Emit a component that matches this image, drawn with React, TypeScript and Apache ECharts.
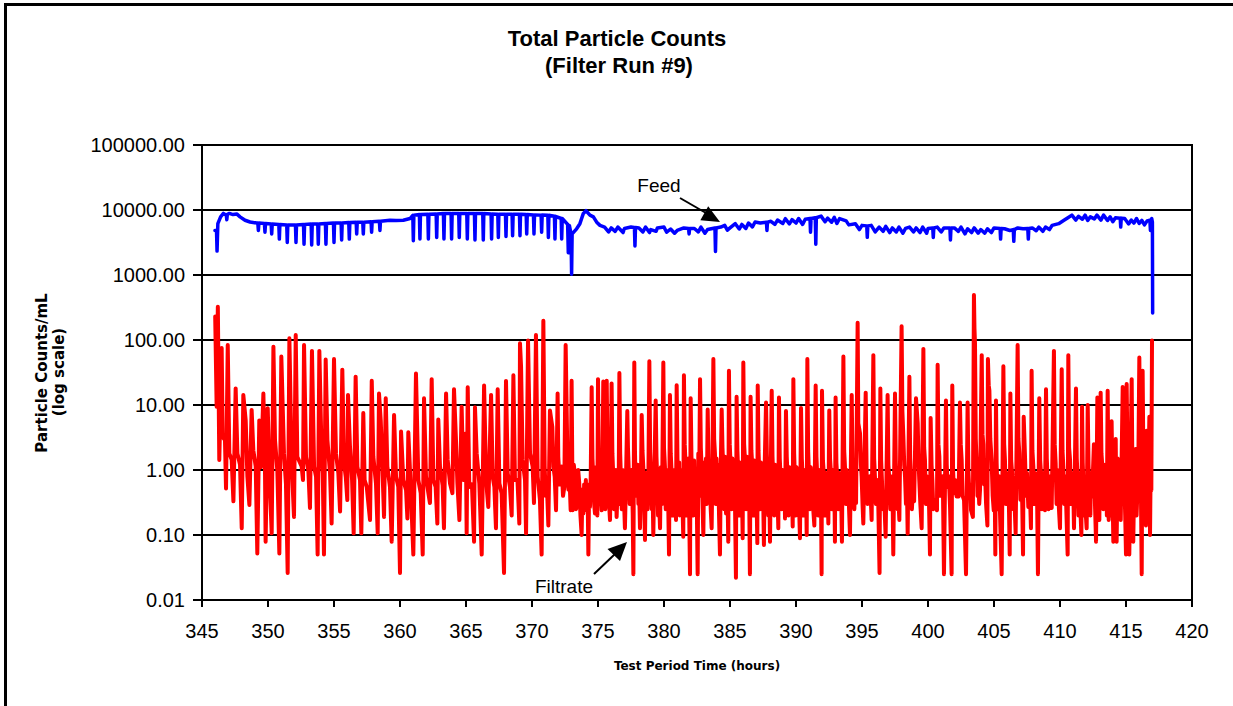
import React, { useEffect, useRef } from "react";
import * as echarts from "echarts";

const xMin = 345;
const xMax = 420;
const xStep = 5;
const yMin = 0.01;
const yMax = 100000;

const titleLines = ["Total Particle Counts", "(Filter Run #9)"];
const yNameLines = ["Particle Counts/mL", "(log scale)"];
const xName = "Test Period Time (hours)";

// Feed (blue) [hours, counts/mL]
const feedPoints: [number, number][] = [
  [345.98, 4840], [346.1, 4840], [346.14, 2330], [346.2, 6160], [346.41, 7850], [346.62, 8860], [346.84, 8300],
  [346.88, 7100], [346.92, 8600], [347.07, 8860], [347.35, 8500], [347.63, 8700], [347.88, 7850], [348.26, 6950],
  [348.64, 6540], [349.14, 6310],
  [349.23, 6300], [349.27, 4840], [349.31, 6300],
  [349.73, 6200], [349.77, 4550], [349.81, 6200],
  [350.24, 6100], [350.28, 4280], [350.32, 6100],
  [350.82, 6000], [350.86, 3570], [350.9, 6000],
  [351.42, 5900], [351.46, 3160], [351.5, 5900],
  [352.08, 5900], [352.12, 3160], [352.16, 5900],
  [352.69, 6000], [352.73, 2980], [352.77, 6000],
  [353.27, 6100], [353.31, 2900], [353.35, 6100],
  [353.77, 6100], [353.81, 2980], [353.85, 6100],
  [354.35, 6200], [354.39, 2980], [354.43, 6200],
  [354.96, 6300], [355.0, 3160], [355.04, 6300],
  [355.54, 6300], [355.58, 3450], [355.62, 6300],
  [356.12, 6400], [356.16, 3570], [356.2, 6400],
  [356.68, 6500], [356.72, 4280], [356.76, 6500],
  [357.18, 6500], [357.22, 4280], [357.26, 6500],
  [357.81, 6600], [357.85, 4550], [357.89, 6600],
  [358.44, 6700], [358.48, 4840], [358.52, 6700],
  [359.24, 6950], [359.7, 6900], [360.25, 6950], [360.76, 7390],
  [360.97, 8300], [361.01, 3360], [361.05, 8300],
  [361.47, 8500], [361.51, 3570], [361.55, 8500],
  [362.11, 8600], [362.15, 3570], [362.19, 8600],
  [362.74, 8700], [362.78, 3790], [362.82, 8700],
  [363.29, 8800], [363.33, 3570], [363.37, 8800],
  [363.87, 8860], [363.91, 3570], [363.95, 8860],
  [364.45, 8860], [364.49, 3790], [364.53, 8860],
  [365.06, 8860], [365.1, 3570], [365.14, 8860],
  [365.64, 8860], [365.68, 3450], [365.72, 8860],
  [366.27, 8800], [366.31, 3450], [366.35, 8800],
  [366.9, 8700], [366.94, 3570], [366.98, 8700],
  [367.41, 8600], [367.45, 3790], [367.49, 8600],
  [367.99, 8600], [368.03, 3900], [368.07, 8600],
  [368.49, 8600], [368.53, 4030], [368.57, 8600],
  [369.05, 8600], [369.09, 4030], [369.13, 8600],
  [369.56, 8500], [369.6, 4280], [369.64, 8500],
  [370.11, 8400], [370.15, 4280], [370.19, 8400],
  [370.69, 8340], [370.73, 4550], [370.77, 8340],
  [371.2, 8300], [371.24, 3790], [371.28, 8300],
  [371.7, 8000], [371.74, 3570], [371.78, 8000],
  [372.21, 7400], [372.25, 3570], [372.29, 7400],
  [372.7, 6000], [372.75, 2200], [372.83, 5800], [372.96, 4300], [373.0, 1030], [373.04, 4280], [373.38, 5140],
  [373.63, 6160], [373.89, 8860], [374.09, 9750], [374.39, 8340], [374.65, 7850],
  [374.9, 6500], [375.15, 5800], [375.5, 5460], [375.8, 4600], [376.0, 5300], [376.3, 4700], [376.5, 5460],
  [376.9, 4500], [377.0, 5200], [377.5, 5460], [377.76, 5400], [377.8, 2800], [377.84, 5400], [378.1, 5300],
  [378.4, 4600], [378.6, 5460], [378.9, 4500], [379.0, 5000], [379.4, 4700], [379.5, 5300], [380.0, 5460],
  [380.2, 4550], [380.5, 5100], [380.8, 4400], [381.0, 4840], [381.5, 5300], [381.86, 5200], [381.9, 4280],
  [381.94, 5200], [382.3, 5200], [382.6, 4600], [382.8, 5460], [383.1, 4400], [383.3, 5000], [383.86, 5300],
  [383.9, 2300], [383.94, 5300], [384.3, 5460], [384.6, 5800], [384.8, 4900], [385.0, 5300], [385.4, 6160],
  [385.7, 5100], [385.9, 6000], [386.2, 5200], [386.4, 6300], [386.7, 5500], [386.9, 6540], [387.3, 6300],
  [387.76, 6500], [387.8, 4840], [387.84, 6500], [388.1, 6700], [388.4, 6000], [388.6, 7000], [389.0, 6200],
  [389.2, 7350], [389.5, 6100], [389.7, 7100], [390.0, 6300], [390.2, 7400], [390.5, 6000], [390.7, 7200],
  [391.06, 7400], [391.1, 4550], [391.14, 7400], [391.46, 7600], [391.5, 2980], [391.54, 7600], [391.9, 8050],
  [392.2, 6600], [392.4, 7500], [392.7, 6500], [392.9, 7700], [393.1, 6200], [393.3, 7390], [393.8, 6800],
  [394.0, 5900], [394.5, 6160], [394.8, 5000], [395.0, 5800], [395.36, 5700], [395.4, 3800], [395.44, 5700],
  [395.7, 5800], [396.0, 4600], [396.3, 5460], [396.6, 4700], [396.8, 5600], [397.1, 4500], [397.3, 5300],
  [397.6, 4600], [397.8, 5460], [398.1, 4400], [398.3, 5200], [398.6, 5460], [398.9, 4600], [399.1, 5300],
  [399.4, 4500], [399.6, 5460], [399.9, 4400], [400.0, 5200], [400.36, 5300], [400.4, 3790], [400.44, 5300],
  [400.7, 5460], [401.0, 4600], [401.2, 5300], [401.66, 5300], [401.7, 3450], [401.74, 5300], [402.0, 5300],
  [402.3, 4700], [402.5, 5460], [402.8, 4300], [403.0, 5140], [403.3, 4500], [403.5, 5300], [403.8, 4400],
  [404.0, 5000], [404.3, 4400], [404.5, 5140], [404.8, 4500], [405.0, 5300], [405.46, 5200], [405.5, 3570],
  [405.54, 5200], [405.8, 5140], [406.2, 4840], [406.46, 5000], [406.5, 3300], [406.54, 5000], [406.8, 5300],
  [407.2, 5140], [407.56, 5200], [407.6, 3570], [407.64, 5200], [407.9, 5300], [408.2, 4800], [408.4, 5460],
  [408.7, 4700], [408.9, 5460], [409.2, 5000], [409.4, 5800], [409.9, 6160], [410.3, 6950], [410.6, 7600],
  [410.9, 8340], [411.2, 7000], [411.4, 8000], [411.7, 7200], [411.9, 8340], [412.1, 6900], [412.3, 7850],
  [412.6, 7300], [412.8, 8340], [413.1, 7000], [413.3, 8340], [413.6, 6900], [413.8, 7850], [414.0, 6600],
  [414.2, 7600], [414.56, 7500], [414.6, 5460], [414.64, 7500], [414.9, 7400], [415.2, 6100], [415.4, 7000],
  [415.6, 6300], [415.8, 7400], [416.0, 6200], [416.2, 6950], [416.4, 5900], [416.6, 6800], [416.81, 7000],
  [416.85, 4840], [416.89, 7000], [416.95, 7390], [417.0, 6500], [417.02, 260],
];

// Filtrate (red) [hours, counts/mL], 346-371 h
const filtrateEarly: [number, number][] = [
  [346.0, 230], [346.11, 9.4], [346.2, 325], [346.31, 1.43],
  [346.49, 75], [346.57, 3.2], [346.74, 2.9], [346.82, 0.52],
  [346.95, 84], [347.07, 1.8], [347.25, 1.43], [347.38, 0.33],
  [347.55, 18], [347.68, 1.8], [347.88, 1.2], [348.01, 0.127],
  [348.13, 14.3], [348.31, 5.8], [348.44, 0.79], [348.59, 0.29],
  [348.76, 8.4], [348.89, 2.0], [349.07, 1.13], [349.19, 0.052],
  [349.34, 5.8], [349.47, 1.1], [349.65, 15], [349.77, 1.13], [349.82, 0.079],
  [349.98, 8.9], [350.1, 1.0], [350.28, 0.106],
  [350.41, 79], [350.53, 2.9], [350.71, 0.95], [350.86, 0.052],
  [351.01, 55.5], [351.21, 1.8], [351.36, 0.62], [351.49, 0.026],
  [351.62, 106], [351.79, 1.35], [351.97, 0.19],
  [352.1, 119], [352.22, 1.6], [352.55, 1.13], [352.65, 0.7],
  [352.73, 84], [352.88, 1.6], [353.06, 0.95], [353.18, 0.26],
  [353.33, 68], [353.49, 1.13], [353.64, 0.79], [353.76, 0.05],
  [353.89, 68], [354.07, 1.43], [354.15, 0.9], [354.24, 0.05],
  [354.37, 50], [354.5, 2.9], [354.7, 0.89], [354.82, 0.15],
  [355.0, 51], [355.15, 1.8], [355.33, 0.89], [355.46, 0.23],
  [355.63, 35], [355.76, 1.27], [355.89, 0.79], [356.01, 0.345],
  [356.06, 14.3], [356.21, 2.3], [356.37, 0.7], [356.49, 0.106],
  [356.64, 27.3], [356.77, 1.13], [356.97, 0.7], [357.07, 0.106],
  [357.22, 7.5], [357.32, 0.7], [357.48, 0.55], [357.73, 0.17],
  [357.86, 23.6], [357.98, 1.6], [358.18, 0.62], [358.31, 0.106],
  [358.41, 15], [358.54, 5.8], [358.69, 0.79], [358.79, 0.19],
  [358.92, 12.7], [359.04, 1.13], [359.24, 0.55], [359.37, 0.079],
  [359.55, 7], [359.7, 0.79], [359.87, 0.55], [360.0, 0.026],
  [360.08, 3.9], [360.25, 0.7], [360.46, 0.49], [360.56, 0.18],
  [360.63, 3.8], [360.81, 0.55], [361.01, 0.05],
  [361.21, 30.5], [361.39, 0.7], [361.57, 0.44], [361.72, 0.05],
  [361.82, 12.7], [361.97, 0.79], [362.15, 0.44], [362.27, 0.31],
  [362.4, 25], [362.53, 0.7], [362.7, 0.55], [362.83, 0.15],
  [362.9, 6], [363.03, 1.13], [363.23, 0.58], [363.33, 0.127],
  [363.49, 15], [363.61, 1.43], [363.79, 0.62], [363.97, 0.44],
  [364.09, 17.5], [364.24, 2.9], [364.35, 0.62], [364.5, 0.17],
  [364.67, 9.4], [364.8, 0.7], [364.98, 3.65], [365.05, 0.106], [365.13, 18.7], [365.25, 0.55], [365.45, 0.6], [365.61, 0.079],
  [365.68, 9.2], [365.81, 1.8], [366.01, 0.62], [366.19, 0.05],
  [366.37, 20], [366.52, 0.79], [366.6, 0.44], [366.69, 0.27],
  [366.9, 14.3], [367.02, 0.79], [367.15, 0.55], [367.27, 0.127],
  [367.4, 17.5], [367.53, 0.62], [367.7, 0.44], [367.88, 0.026],
  [368.03, 23.5], [368.16, 0.89], [368.33, 0.55], [368.46, 0.2],
  [368.59, 28.7], [368.71, 0.7], [368.9, 0.7], [369.04, 0.15],
  [369.09, 89], [369.17, 39.5], [369.29, 1.43], [369.47, 0.7], [369.55, 0.106],
  [369.7, 98], [369.85, 1.8], [370.05, 1.13], [370.15, 0.31],
  [370.3, 119], [370.43, 0.79], [370.6, 0.35], [370.73, 0.05],
];

// Filtrate, 371-394.6 h
const filtrateMiddle: [number, number][] = [
  [370.86, 198], [370.96, 1.13], [371.04, 0.4], [371.11, 0.7], [371.18, 0.3], [371.24, 0.14],
  [371.36, 8.2], [371.54, 4.6], [371.62, 1.13], [371.72, 0.79], [371.82, 0.24],
  [371.94, 15], [371.99, 1.6], [372.1, 0.6], [372.25, 1.13], [372.35, 0.4], [372.45, 0.55],
  [372.55, 84], [372.68, 1.6], [372.76, 0.5], [372.83, 0.89], [372.93, 0.24],
  [373.0, 23.6], [373.08, 0.24], [373.17, 1.2], [373.26, 0.79], [373.34, 0.25], [373.43, 0.39], [373.5, 1.0],
  [373.58, 0.62], [373.67, 0.2], [373.76, 0.1], [373.82, 0.5], [373.89, 0.215], [373.95, 0.6], [374.01, 0.27],
  [374.08, 0.7], [374.14, 0.24], [374.21, 0.5], [374.27, 0.05], [374.33, 0.6], [374.39, 0.27], [374.45, 0.8],
  [374.52, 18.7], [374.58, 1.5], [374.65, 0.7], [374.71, 0.3], [374.77, 0.215], [374.84, 1.1], [374.9, 0.4], [374.95, 0.2],
  [375.0, 25], [375.05, 2.0], [375.1, 0.89], [375.15, 0.3], [375.2, 0.44], [375.28, 0.24], [375.34, 1.2],
  [375.4, 23], [375.45, 1.5], [375.5, 0.7], [375.55, 0.25], [375.6, 0.44],
  [375.66, 23.6], [375.72, 1.6], [375.78, 0.7], [375.84, 0.3], [375.91, 0.17], [375.97, 0.9],
  [376.03, 21.5], [376.09, 1.8], [376.16, 0.79], [376.22, 0.25], [376.29, 0.44], [376.35, 1.0], [376.41, 0.19], [376.5, 0.6], [376.56, 0.3],
  [376.62, 31], [376.68, 1.8], [376.74, 0.7], [376.8, 0.25], [376.86, 1.0], [376.92, 0.55], [376.98, 0.3], [377.04, 0.127], [377.12, 0.7],
  [377.22, 8.1], [377.27, 2.2], [377.32, 1.13], [377.4, 0.3], [377.47, 0.44], [377.55, 1.0], [377.63, 0.215], [377.68, 0.025],
  [377.75, 45], [377.8, 2.0], [377.86, 0.4], [377.93, 0.55], [378.0, 1.2], [378.06, 0.3], [378.13, 0.39], [378.18, 0.127], [378.25, 0.6],
  [378.31, 7], [378.37, 2.0], [378.43, 1.13], [378.5, 0.3], [378.56, 0.084], [378.62, 0.9], [378.69, 0.7], [378.76, 0.25], [378.82, 0.8],
  [378.89, 47], [378.95, 2.0], [379.01, 0.89], [379.08, 0.25], [379.14, 0.44], [379.19, 0.1], [379.27, 0.9],
  [379.37, 11.7], [379.43, 1.6], [379.49, 0.7], [379.55, 0.2], [379.62, 0.39], [379.7, 0.127], [379.76, 1.1], [379.85, 0.3],
  [379.95, 45], [380.0, 2.2], [380.07, 1.13], [380.13, 0.25], [380.2, 0.39], [380.28, 1.0], [380.38, 0.05],
  [380.45, 14.3], [380.51, 1.8], [380.58, 0.89], [380.65, 0.2], [380.7, 1.0], [380.76, 0.39], [380.84, 0.8], [380.91, 0.17],
  [380.96, 20.2], [381.02, 1.5], [381.09, 0.55], [381.15, 1.3], [381.2, 0.2], [381.26, 0.27], [381.34, 1.0], [381.4, 0.3], [381.46, 0.094],
  [381.51, 28.7], [381.57, 2.5], [381.64, 1.13], [381.7, 0.2], [381.75, 1.1], [381.79, 0.39], [381.85, 1.5], [381.9, 0.3], [381.97, 0.025],
  [382.02, 12.7], [382.08, 1.6], [382.15, 0.7], [382.22, 0.2], [382.28, 1.4], [382.35, 0.27], [382.42, 1.0], [382.48, 0.35], [382.55, 0.025],
  [382.6, 1.8], [382.66, 0.4],
  [382.73, 25], [382.79, 2.2], [382.85, 1.13], [382.92, 0.3], [382.98, 0.1], [383.04, 1.3], [383.1, 0.44], [383.18, 1.5], [383.24, 0.3],
  [383.31, 8.5], [383.36, 1.8], [383.41, 0.55], [383.48, 1.4], [383.54, 0.25], [383.61, 0.127], [383.67, 1.2],
  [383.74, 51], [383.8, 3.0], [383.86, 1.8], [383.92, 0.3], [383.98, 1.5], [384.04, 0.44], [384.1, 1.2], [384.17, 0.2], [384.24, 0.05], [384.3, 1.0],
  [384.37, 8.5], [384.43, 2.2], [384.49, 1.13], [384.56, 0.25], [384.62, 1.6], [384.7, 0.215], [384.78, 1.0], [384.87, 0.079],
  [384.92, 33.5], [384.98, 2.5], [385.05, 1.13], [385.12, 0.25], [385.18, 1.5], [385.25, 0.27], [385.32, 1.3], [385.38, 0.3], [385.45, 0.022],
  [385.5, 13.4], [385.56, 2.0], [385.63, 0.79], [385.7, 0.2], [385.75, 1.3], [385.81, 0.345], [385.88, 1.0], [385.96, 0.089],
  [386.01, 45], [386.07, 2.5], [386.16, 1.13], [386.22, 0.25], [386.28, 1.6], [386.34, 0.44], [386.4, 1.2], [386.46, 0.3], [386.51, 0.025],
  [386.56, 13.4], [386.62, 2.0], [386.72, 0.89], [386.78, 0.2], [386.84, 1.4], [386.89, 0.345], [386.96, 1.1], [387.02, 0.3], [387.07, 0.075],
  [387.1, 20], [387.16, 2.0], [387.22, 0.89], [387.28, 0.25], [387.34, 1.3], [387.4, 0.39], [387.48, 1.0], [387.57, 0.07],
  [387.63, 1.2], [387.73, 10.9], [387.79, 1.8], [387.85, 0.7], [387.9, 0.2], [387.96, 1.0], [388.03, 0.079], [388.09, 0.9],
  [388.16, 16.5], [388.22, 1.6], [388.28, 0.7], [388.35, 0.2], [388.41, 1.2], [388.48, 0.39], [388.56, 0.9], [388.66, 0.127],
  [388.71, 13], [388.77, 1.5], [388.84, 0.7], [388.9, 0.25], [388.97, 1.0], [389.04, 0.39], [389.1, 0.9], [389.17, 0.18],
  [389.24, 8.1], [389.3, 1.6], [389.37, 0.7], [389.44, 0.2], [389.5, 1.1], [389.6, 0.345], [389.68, 0.8], [389.75, 0.135],
  [389.8, 25], [389.86, 1.8], [389.92, 0.7], [389.98, 0.2], [390.04, 1.1], [390.1, 0.44], [390.18, 0.9], [390.24, 0.25], [390.3, 0.089],
  [390.38, 9], [390.44, 1.5], [390.5, 0.79], [390.56, 0.2], [390.62, 1.0], [390.68, 0.44], [390.75, 0.8], [390.81, 0.1],
  [390.86, 51], [390.92, 2.0], [390.98, 0.89], [391.05, 0.25], [391.12, 1.1], [391.19, 0.55], [391.28, 0.3], [391.39, 0.14],
  [391.49, 20], [391.55, 1.6], [391.62, 0.7], [391.68, 0.2], [391.75, 1.0], [391.82, 0.27], [391.88, 0.8], [391.94, 0.025],
  [391.97, 16.5], [392.04, 1.4], [392.12, 0.79], [392.18, 0.2], [392.25, 0.9], [392.32, 0.345], [392.38, 0.7], [392.45, 0.15],
  [392.52, 8.2], [392.58, 1.5], [392.65, 0.89], [392.72, 0.25], [392.78, 1.0], [392.83, 0.44], [392.9, 0.7], [392.95, 0.079],
  [393.0, 13], [393.06, 1.3], [393.13, 0.7], [393.2, 0.25], [393.27, 0.9], [393.33, 0.39], [393.4, 0.7], [393.48, 0.079],
  [393.59, 55.5], [393.65, 2.0], [393.71, 1.13], [393.78, 0.3], [393.84, 1.0], [393.89, 0.44], [393.96, 0.8], [394.02, 0.25], [394.09, 0.1],
  [394.22, 14.3], [394.28, 1.3], [394.34, 0.7], [394.42, 0.25], [394.48, 0.8], [394.55, 0.31],
];

// Filtrate, 394.6-417 h
const filtrateLate: [number, number][] = [
  [394.67, 184], [394.72, 5.2], [394.85, 3.65], [394.92, 1.2], [394.97, 0.79], [395.04, 0.3], [395.1, 0.15],
  [395.28, 15.5], [395.35, 0.89], [395.42, 0.3], [395.48, 0.55], [395.6, 0.8], [395.73, 0.17],
  [395.86, 58.5], [395.92, 1.5], [395.98, 0.79], [396.05, 0.3], [396.11, 0.39], [396.2, 0.7], [396.33, 0.026],
  [396.39, 18], [396.45, 1.4], [396.51, 0.7], [396.58, 0.25], [396.67, 0.44], [396.79, 0.094],
  [396.94, 14.3], [397.0, 1.2], [397.07, 0.7], [397.14, 0.25], [397.22, 0.44], [397.3, 0.8], [397.37, 0.05],
  [397.5, 15], [397.56, 1.3], [397.63, 0.55], [397.7, 0.25], [397.75, 0.39], [397.83, 0.17],
  [398.0, 163], [398.06, 8], [398.13, 3.4], [398.2, 1.2], [398.26, 0.79], [398.33, 0.3], [398.4, 0.6], [398.46, 0.105],
  [398.59, 27.3], [398.65, 1.5], [398.71, 0.7], [398.78, 0.25], [398.84, 0.44], [398.95, 0.33],
  [399.09, 12.7], [399.22, 5.2], [399.28, 1.4], [399.34, 0.7], [399.42, 0.3], [399.52, 0.127],
  [399.65, 73], [399.71, 2.2], [399.77, 1.43], [399.84, 0.3], [399.9, 0.8], [399.95, 0.44], [400.05, 0.6], [400.15, 0.05],
  [400.2, 6.3], [400.27, 1.2], [400.33, 0.7], [400.4, 0.25], [400.53, 0.345], [400.68, 0.24],
  [400.73, 41.5], [400.79, 2.5], [400.86, 1.6], [400.93, 0.4], [401.03, 0.44], [401.12, 0.8], [401.21, 0.025],
  [401.36, 11.7], [401.42, 1.2], [401.49, 0.55], [401.58, 0.8], [401.67, 0.27], [401.79, 0.025],
  [401.84, 20], [401.9, 1.0], [401.97, 0.44], [402.05, 0.7], [402.17, 0.39], [402.32, 0.39],
  [402.42, 10.9], [402.48, 2.5], [402.55, 1.43], [402.62, 0.4], [402.73, 0.345], [402.88, 0.025],
  [403.0, 10.9], [403.06, 1.0], [403.13, 0.44], [403.2, 0.6], [403.26, 0.24], [403.4, 0.19],
  [403.48, 492], [403.52, 150], [403.56, 89], [403.62, 3], [403.69, 1.13], [403.75, 0.4], [403.81, 0.7], [403.88, 0.3], [403.94, 0.49],
  [404.07, 58.5], [404.13, 3.5], [404.19, 2.5], [404.25, 0.6], [404.32, 0.89], [404.4, 0.3], [404.5, 0.14],
  [404.54, 51], [404.6, 20], [404.65, 16.7], [404.72, 3], [404.82, 1.43], [404.9, 0.4], [404.98, 0.24], [405.05, 0.7], [405.1, 0.05],
  [405.15, 11.7], [405.2, 1.3], [405.25, 0.55], [405.32, 0.25], [405.38, 0.8], [405.45, 0.24], [405.58, 0.025],
  [405.71, 39.5], [405.77, 2.5], [405.83, 1.43], [405.9, 0.3], [405.95, 0.9], [406.01, 0.44], [406.1, 0.7], [406.19, 0.05],
  [406.24, 15], [406.3, 1.4], [406.41, 0.7], [406.47, 0.25], [406.54, 0.39], [406.64, 0.106],
  [406.79, 84], [406.85, 3], [406.92, 1.8], [407.0, 0.35], [407.07, 0.7], [407.14, 0.3], [407.2, 0.05],
  [407.25, 6.6], [407.35, 1.6], [407.42, 0.4], [407.5, 0.9], [407.6, 0.27], [407.7, 0.6], [407.8, 0.127],
  [407.85, 33.5], [407.91, 2.0], [407.98, 1.13], [408.05, 0.3], [408.1, 0.9], [408.18, 0.39], [408.25, 0.7], [408.33, 0.025],
  [408.43, 12.7], [408.5, 1.4], [408.56, 0.89], [408.63, 0.25], [408.68, 0.9], [408.74, 0.44], [408.86, 0.24],
  [408.94, 17.5], [409.0, 1.5], [409.06, 0.7], [409.13, 0.25], [409.18, 0.8], [409.24, 0.39], [409.37, 0.26],
  [409.54, 68], [409.6, 2.5], [409.67, 1.27], [409.74, 0.3], [409.78, 1.0], [409.82, 0.55], [409.9, 0.3], [410.0, 0.127],
  [410.13, 35.4], [410.19, 2.0], [410.25, 1.13], [410.32, 0.3], [410.38, 0.8], [410.45, 0.39], [410.58, 0.05],
  [410.63, 58.5], [410.69, 2.2], [410.76, 1.43], [410.83, 0.3], [410.88, 0.9], [410.93, 0.39], [411.0, 0.6], [411.06, 0.127],
  [411.21, 18], [411.27, 1.5], [411.34, 0.7], [411.4, 0.2], [411.45, 0.9], [411.51, 0.39], [411.62, 0.1],
  [411.67, 9.4], [411.72, 1.3], [411.77, 0.62], [411.84, 0.2], [411.92, 0.27], [412.02, 0.127],
  [412.1, 10], [412.16, 1.2], [412.22, 0.55], [412.3, 0.2], [412.35, 0.9], [412.4, 0.39], [412.5, 1.0], [412.57, 2.5], [412.65, 0.3], [412.73, 0.079],
  [412.83, 13], [412.9, 0.7], [412.98, 0.17], [413.08, 15.5], [413.14, 1.8], [413.21, 1.13], [413.28, 0.25], [413.34, 1.2], [413.41, 0.345],
  [413.5, 0.9], [413.55, 0.2],
  [413.61, 16.5], [413.69, 0.17], [413.79, 0.7], [413.85, 0.2], [413.91, 5.6], [413.98, 0.5], [414.04, 0.079], [414.13, 1.2], [414.22, 3.0],
  [414.29, 0.079], [414.37, 1.5], [414.45, 0.5], [414.52, 1.2], [414.6, 0.17],
  [414.75, 19], [414.81, 1.5], [414.87, 0.7], [414.94, 0.2], [415.0, 0.05],
  [415.05, 21], [415.11, 1.8], [415.18, 0.345], [415.25, 0.05], [415.43, 25], [415.48, 1.2], [415.55, 0.079], [415.63, 0.9],
  [415.73, 2.1], [415.8, 0.2], [415.86, 0.44], [415.94, 1.5],
  [416.01, 54], [416.06, 2.5], [416.11, 1.43], [416.19, 0.025], [416.26, 33.5], [416.32, 1.2], [416.39, 0.345], [416.45, 1.0], [416.51, 0.14],
  [416.56, 4.0], [416.62, 0.8], [416.67, 0.345], [416.72, 1.5], [416.77, 6.6], [416.82, 0.1], [416.87, 1.2], [416.92, 0.49], [416.97, 98],
];

const filtratePoints = [...filtrateEarly, ...filtrateMiddle, ...filtrateLate];

const ARIAL = "'Liberation Sans', Arial, Helvetica, sans-serif";
const HEAVY = "'DejaVu Sans', sans-serif";

function buildOption() {
  return {
    animation: false,
    backgroundColor: "#ffffff",
    textStyle: { fontFamily: ARIAL },
    grid: {
      left: 202,
      right: 41,
      top: 145,
      bottom: 106,
      show: true,
      borderColor: "#000",
      borderWidth: 2,
      containLabel: false,
      outerBoundsMode: "none",
    },
    xAxis: {
      type: "value",
      min: xMin,
      max: xMax,
      interval: xStep,
      name: xName,
      nameLocation: "middle",
      nameGap: 60,
      nameTextStyle: { fontSize: 12, fontWeight: "bold", color: "#000", fontFamily: HEAVY },
      axisLine: { show: true, onZero: false, lineStyle: { color: "#000", width: 2 } },
      axisTick: { show: true, length: 7, lineStyle: { color: "#000", width: 2 } },
      axisLabel: { fontSize: 20, color: "#000", margin: 21, fontFamily: ARIAL },
      splitLine: { show: false },
    },
    yAxis: {
      type: "log",
      logBase: 10,
      min: yMin,
      max: yMax,
      splitNumber: 7,
      axisLine: { show: true, lineStyle: { color: "#000", width: 2 } },
      axisTick: { show: true, length: 9, lineStyle: { color: "#000", width: 2 } },
      axisLabel: {
        fontSize: 20,
        color: "#000",
        margin: 17,
        fontFamily: ARIAL,
        formatter: (v: number) => Number(v).toFixed(2),
      },
      splitLine: { show: true, lineStyle: { color: "#000", width: 2 } },
    },
    series: [
      {
        name: "Feed",
        type: "line",
        data: feedPoints,
        symbol: "none",
        showSymbol: false,
        lineStyle: { color: "#0000ff", width: 3.5, join: "round", cap: "round" },
        itemStyle: { color: "#0000ff" },
        z: 3,
      },
      {
        name: "Filtrate",
        type: "line",
        data: filtratePoints,
        symbol: "none",
        showSymbol: false,
        lineStyle: { color: "#ff0000", width: 4, join: "round", cap: "round" },
        itemStyle: { color: "#ff0000" },
        z: 4,
      },
    ],
    graphic: [
      {
        type: "rect",
        silent: true,
        shape: { x: 5.5, y: 4.5, width: 1300, height: 800 },
        style: { fill: "none", stroke: "#000", lineWidth: 3 },
      },
      {
        type: "text",
        x: 617,
        y: 38,
        style: { text: titleLines[0], fontSize: 22, fontWeight: "bold", fontFamily: ARIAL, fill: "#000", align: "center", verticalAlign: "middle" },
      },
      {
        type: "text",
        x: 619,
        y: 65,
        style: { text: titleLines[1], fontSize: 22, fontWeight: "bold", fontFamily: ARIAL, fill: "#000", align: "center", verticalAlign: "middle" },
      },
      {
        type: "text",
        x: 42,
        y: 373,
        rotation: Math.PI / 2,
        style: { text: yNameLines[0], fontSize: 15, fontWeight: "bold", fontFamily: HEAVY, fill: "#000", align: "center", verticalAlign: "middle" },
      },
      {
        type: "text",
        x: 59,
        y: 372,
        rotation: Math.PI / 2,
        style: { text: yNameLines[1], fontSize: 15, fontWeight: "bold", fontFamily: HEAVY, fill: "#000", align: "center", verticalAlign: "middle" },
      },
      {
        type: "text",
        x: 659,
        y: 185,
        style: { text: "Feed", fontSize: 19, fontFamily: ARIAL, fill: "#000", align: "center", verticalAlign: "middle" },
      },
      {
        type: "line",
        shape: { x1: 680, y1: 198, x2: 706, y2: 213 },
        style: { stroke: "#000", lineWidth: 2 },
      },
      {
        type: "polygon",
        shape: { points: [[720, 222], [700.4, 220.2], [708.2, 206.2]] },
        style: { fill: "#000" },
      },
      {
        type: "text",
        x: 564,
        y: 586,
        style: { text: "Filtrate", fontSize: 19, fontFamily: ARIAL, fill: "#000", align: "center", verticalAlign: "middle" },
      },
      {
        type: "line",
        shape: { x1: 594, y1: 574, x2: 615, y2: 554 },
        style: { stroke: "#000", lineWidth: 2 },
      },
      {
        type: "polygon",
        shape: { points: [[627, 542], [620, 561], [607.5, 549]] },
        style: { fill: "#000" },
      },
    ],
  };
}

export default function App() {
  const ref = useRef<HTMLDivElement>(null);
  useEffect(() => {
    if (!ref.current) return;
    const chart = echarts.init(ref.current, null, { renderer: "svg" });
    chart.setOption(buildOption() as any);
    return () => chart.dispose();
  }, []);
  return (
    <div
      ref={ref}
      style={{ position: "fixed", left: 0, top: 0, width: 1233, height: 706, background: "#fff" }}
    />
  );
}
